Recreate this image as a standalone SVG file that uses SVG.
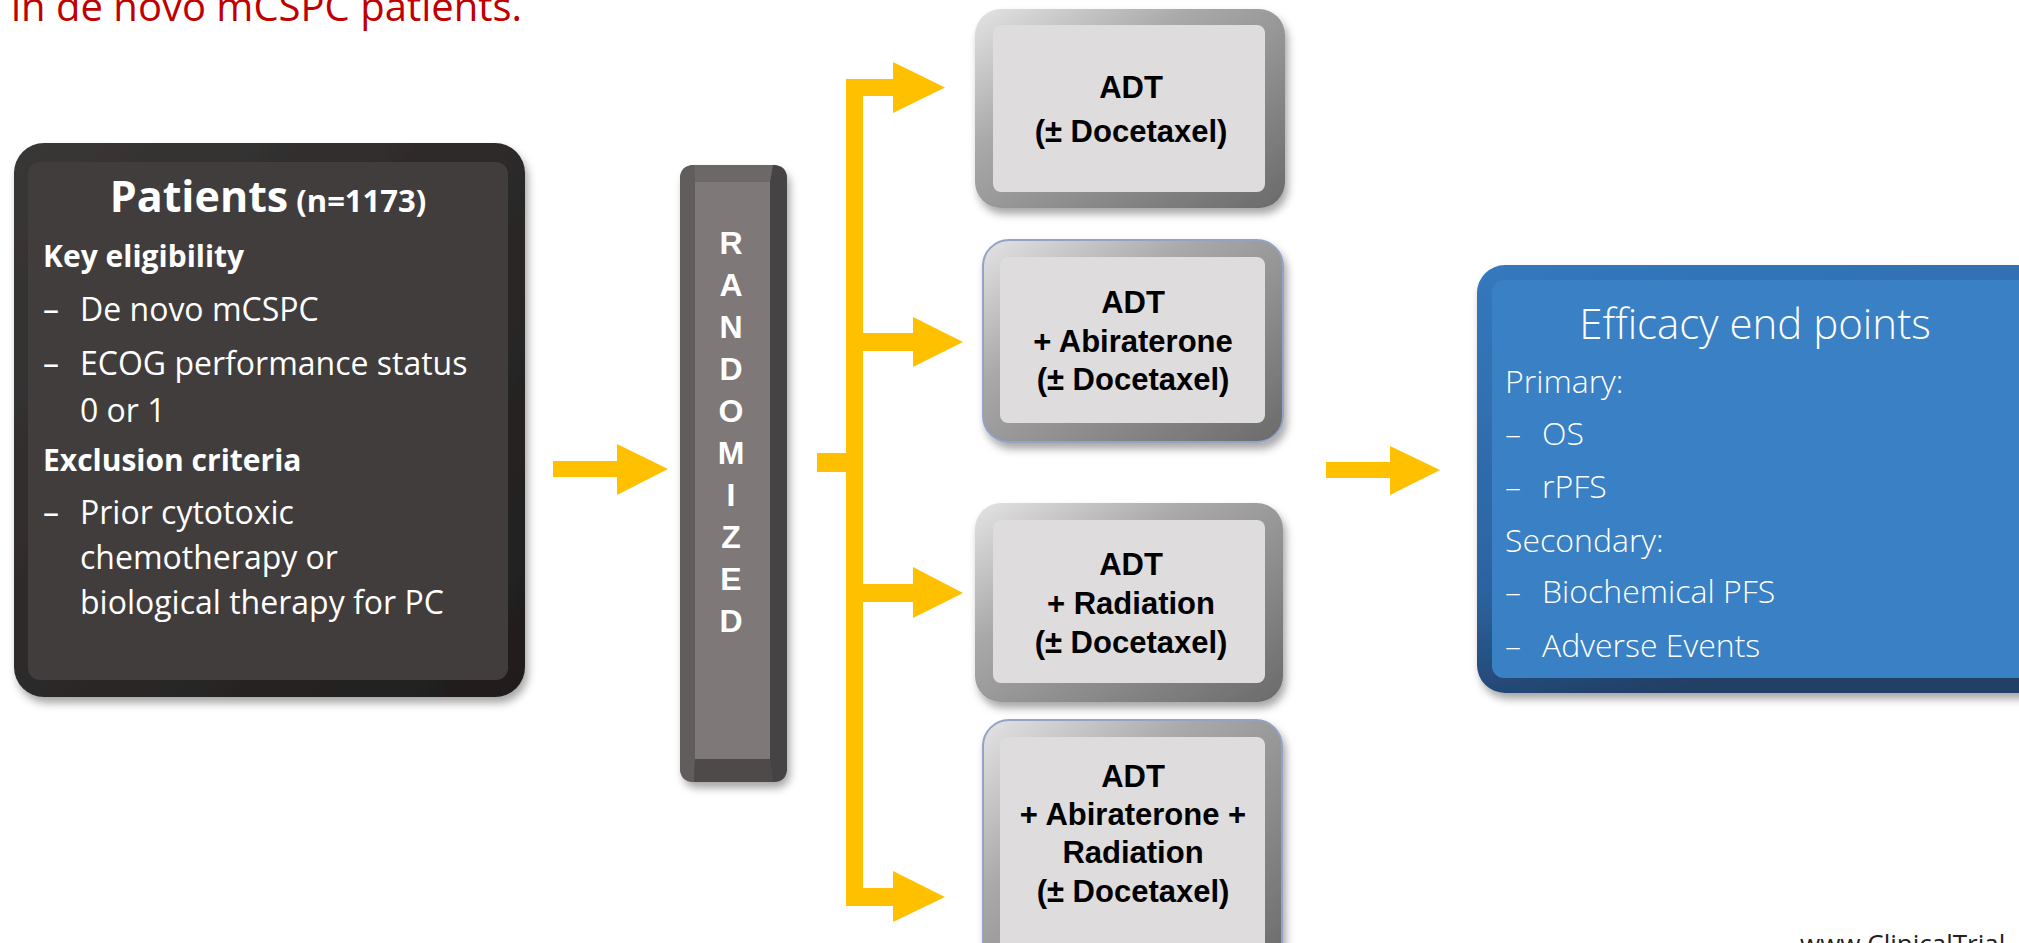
<svg xmlns="http://www.w3.org/2000/svg" width="2019" height="943" viewBox="0 0 2019 943">
<defs>
<style>
.os{font-family:"Open Sans","Noto Sans","Liberation Sans",sans-serif;}
.pt{fill:#ffffff;font-size:32px;}
.ph{fill:#ffffff;font-size:30px;font-weight:bold;}
.ef{fill:#ffffff;font-size:32px;font-weight:300;}
.adt{font-family:"Liberation Sans",Arial,sans-serif;font-weight:bold;font-size:31px;fill:#000;text-anchor:middle;}
.rnd{font-family:"Liberation Sans",Arial,sans-serif;font-weight:bold;font-size:32px;fill:#fff;text-anchor:middle;}
.arw{fill:#FFC000;}
.face{fill:#dedcdd;}
.blue{stroke:#93a3c6;stroke-width:2;}
</style>
<filter id="sh" x="-10%" y="-10%" width="125%" height="125%">
<feDropShadow dx="3" dy="6" stdDeviation="4" flood-color="#000" flood-opacity="0.35"/>
</filter>
<linearGradient id="gbev" x1="0" y1="0" x2="1" y2="1">
<stop offset="0" stop-color="#e4e4e4"/>
<stop offset="0.35" stop-color="#a9a9a9"/>
<stop offset="1" stop-color="#6a6a6a"/>
</linearGradient>
<linearGradient id="gdark" x1="0" y1="0" x2="1" y2="1">
<stop offset="0" stop-color="#3a3636"/>
<stop offset="1" stop-color="#1f1d1d"/>
</linearGradient>
<linearGradient id="gblue" x1="0" y1="0" x2="0.3" y2="1">
<stop offset="0" stop-color="#3479bd"/>
<stop offset="0.7" stop-color="#2c63a0"/>
<stop offset="1" stop-color="#213f66"/>
</linearGradient>
</defs>

<text class="os" x="11" y="21" font-size="40" fill="#C00000">in de novo mCSPC patients.</text>

<g id="patients">
<rect x="14" y="143" width="511" height="554" rx="30" fill="url(#gdark)" filter="url(#sh)"/>
<rect x="28" y="162" width="480" height="518" rx="12" fill="#413d3d"/>
<text class="os" x="268" y="212" text-anchor="middle" fill="#fff" font-weight="bold"><tspan font-size="43">Patients</tspan><tspan font-size="31"> (n=1173)</tspan></text>
<text class="os ph" x="43" y="267">Key eligibility</text>
<text class="os pt" x="43" y="321">–</text><text class="os pt" x="80" y="321">De novo mCSPC</text>
<text class="os pt" x="43" y="375">–</text><text class="os pt" x="80" y="375">ECOG performance status</text>
<text class="os pt" x="80" y="422">0 or 1</text>
<text class="os ph" x="43" y="471">Exclusion criteria</text>
<text class="os pt" x="43" y="524">–</text><text class="os pt" x="80" y="524">Prior cytotoxic</text>
<text class="os pt" x="80" y="569">chemotherapy or</text>
<text class="os pt" x="80" y="614">biological therapy for PC</text>
</g>

<g id="randomized">
<rect x="680" y="165" width="107" height="617" rx="14" fill="#555050" filter="url(#sh)"/>
<path d="M680 179 Q680 165 694 165 L695 182 L695 759 L694 782 Q680 782 680 768 Z" fill="#625d5d"/>
<path d="M787 179 Q787 165 773 165 L770 182 L770 759 L773 782 Q787 782 787 768 Z" fill="#464344"/>
<path d="M694 165 L773 165 L770 182 L695 182 Z" fill="#6d6868"/>
<path d="M694 782 L773 782 L770 759 L695 759 Z" fill="#4e4a4a"/>
<rect x="695" y="182" width="75" height="577" fill="#7e7879"/>
<text class="rnd" x="731" y="254">R</text>
<text class="rnd" x="731" y="296">A</text>
<text class="rnd" x="731" y="338">N</text>
<text class="rnd" x="731" y="380">D</text>
<text class="rnd" x="731" y="422">O</text>
<text class="rnd" x="731" y="464">M</text>
<text class="rnd" x="731" y="506">I</text>
<text class="rnd" x="731" y="548">Z</text>
<text class="rnd" x="731" y="590">E</text>
<text class="rnd" x="731" y="632">D</text>
</g>

<g id="arm1">
<rect x="975" y="9" width="310" height="199" rx="26" fill="url(#gbev)" filter="url(#sh)"/>
<rect class="face" x="993" y="25" width="272" height="167" rx="8"/>
<text class="adt" x="1131" y="98">ADT</text>
<text class="adt" x="1131" y="142">(± Docetaxel)</text>
</g>

<g id="arm2">
<rect class="blue" x="983" y="240" width="300" height="202" rx="26" fill="url(#gbev)" filter="url(#sh)"/>
<rect class="face" x="1000" y="257" width="265" height="166" rx="8"/>
<text class="adt" x="1133" y="313">ADT</text>
<text class="adt" x="1133" y="352">+ Abiraterone</text>
<text class="adt" x="1133" y="390">(± Docetaxel)</text>
</g>

<g id="arm3">
<rect x="975" y="503" width="308" height="199" rx="26" fill="url(#gbev)" filter="url(#sh)"/>
<rect class="face" x="993" y="520" width="272" height="163" rx="8"/>
<text class="adt" x="1131" y="575">ADT</text>
<text class="adt" x="1131" y="614">+ Radiation</text>
<text class="adt" x="1131" y="653">(± Docetaxel)</text>
</g>

<g id="arm4">
<rect class="blue" x="983" y="720" width="299" height="250" rx="26" fill="url(#gbev)" filter="url(#sh)"/>
<rect class="face" x="1000" y="737" width="265" height="215" rx="8"/>
<text class="adt" x="1133" y="787">ADT</text>
<text class="adt" x="1133" y="825">+ Abiraterone +</text>
<text class="adt" x="1133" y="863">Radiation</text>
<text class="adt" x="1133" y="902">(± Docetaxel)</text>
</g>

<g id="endpoints">
<rect x="1477" y="265" width="570" height="428" rx="28" fill="url(#gblue)" filter="url(#sh)"/>
<rect x="1492" y="280" width="540" height="398" rx="12" fill="#3a80c4"/>
<text class="os" x="1755" y="339" text-anchor="middle" fill="#fff" font-size="42" font-weight="300">Efficacy end points</text>
<text class="os ef" x="1505" y="393">Primary:</text>
<text class="os ef" x="1505" y="445">–</text><text class="os ef" x="1542" y="445">OS</text>
<text class="os ef" x="1505" y="498">–</text><text class="os ef" x="1542" y="498">rPFS</text>
<text class="os ef" x="1505" y="552">Secondary:</text>
<text class="os ef" x="1505" y="603">–</text><text class="os ef" x="1542" y="603">Biochemical PFS</text>
<text class="os ef" x="1505" y="657">–</text><text class="os ef" x="1542" y="657">Adverse Events</text>
</g>

<g id="connectors">
<polygon class="arw" points="553,461 617,461 617,444 668,469 617,495 617,477 553,477"/>
<rect class="arw" x="817" y="453" width="40" height="19"/>
<rect class="arw" x="846" y="79" width="17" height="827"/>
<polygon class="arw" points="846,79 893,79 893,62 945,87.5 893,113 893,96 846,96"/>
<polygon class="arw" points="863,333 913,333 913,317 963,342 913,367 913,351 863,351"/>
<polygon class="arw" points="863,584 913,584 913,567 963,593 913,618 913,602 863,602"/>
<polygon class="arw" points="846,888 893,888 893,871 945,897 893,922 893,906 846,906"/>
<polygon class="arw" points="1326,462 1390,462 1390,446 1440,470 1390,495 1390,478 1326,478"/>
</g>

<text class="os" x="1800" y="953" font-size="26" fill="#222">www.ClinicalTrial</text>
</svg>
